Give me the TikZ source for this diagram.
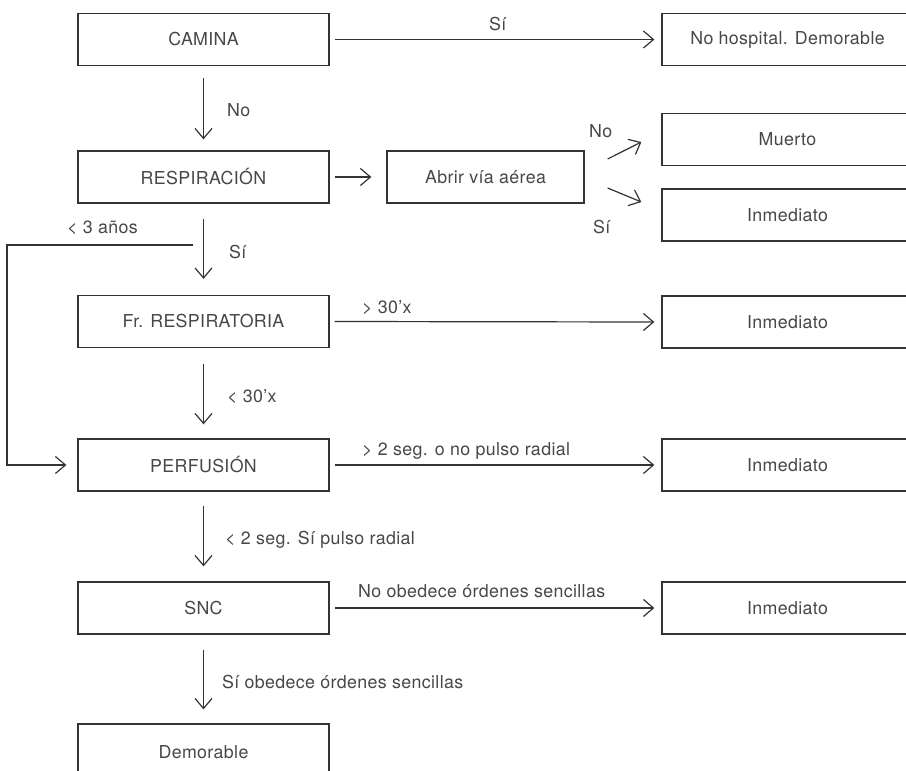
\documentclass[tikz,border=0pt]{standalone}
\usepackage{fontspec}
\setmainfont{TeX Gyre Heros}[LetterSpace=2]
\usetikzlibrary{arrows.meta}
\definecolor{ink}{HTML}{333333}
\definecolor{txt}{HTML}{474747}
\begin{document}
\begin{tikzpicture}[x=1pt,y=-1pt,
  box/.style={draw=ink,line width=1.3pt,minimum width=251pt,minimum height=52pt,
    inner sep=0pt,text=txt,font=\fontsize{17.8}{20}\selectfont},
  smallbox/.style={box,minimum width=197pt},
  arr/.style={draw=ink,line width=1.2pt,-{Straight Barb[length=10pt,width=17pt,line width=1.2pt]}},
  lbl/.style={anchor=base west,inner sep=0pt,text=txt,font=\fontsize{17.8}{20}\selectfont}]
\useasboundingbox (0,0) rectangle (906,771);
\clip (0,0) rectangle (906,771);

% main column
\node[box] (camina) at (203.5,39.5) {CAMINA};
\node[box] (resp)   at (203.5,177)  {RESPIRACIÓN};
\node[box] (frresp) at (203.5,321.5){Fr. RESPIRATORIA};
\node[box] (perf)   at (203.5,465)  {PERFUSIÓN};
\node[box] (snc)    at (203.5,608)  {SNC};
\node[box] (demor)  at (203.5,750)  {};
\node[lbl,anchor=center] (demortxt) at (203.5,752) {Demorable};

% airway box and outcomes
\node[smallbox] (abrir) at (485.5,177) {Abrir vía aérea};
\node[box] (nohosp) at (787.5,39.5) {No hospital. Demorable};
\node[box] (muerto) at (787.5,139.5){Muerto};
\node[box] (inm1)   at (787.5,215)  {Inmediato};
\node[box] (inm2)   at (787.5,322)  {Inmediato};
\node[box] (inm3)   at (787.5,465)  {Inmediato};
\node[box] (inm4)   at (787.5,608)  {Inmediato};

% vertical connectors
\draw[arr] ([yshift=-12pt]camina.south) -- ([yshift=11pt]resp.north);
\draw[arr] ([yshift=-15pt]resp.south) -- ([yshift=16pt]frresp.north);
\draw[arr] ([yshift=-16pt]frresp.south) -- ([yshift=14pt]perf.north);
\draw[arr] ([yshift=-14pt]perf.south) -- ([yshift=15pt]snc.north);
\draw[arr] ([yshift=-15pt]snc.south) -- ([yshift=14pt]demor.north);

% horizontal connectors
\draw[arr] ([xshift=5pt]camina.east) -- ([xshift=-7pt]nohosp.west);
\draw[arr] ([xshift=5pt]resp.east) -- ([xshift=-15pt]abrir.west);
\draw[arr] ([xshift=5pt]frresp.east) -- ([xshift=-7pt]inm2.west);
\draw[arr] ([xshift=5pt]perf.east) -- ([xshift=-7pt]inm3.west);
\draw[arr] ([xshift=5pt]snc.east) -- ([xshift=-7pt]inm4.west);

% airway branches
\draw[arr] ([shift={(23,-18)}]abrir.east) -- ([shift={(-20,2.5)}]muerto.west);
\draw[arr] ([shift={(23,11)}]abrir.east) -- ([shift={(-20,-13)}]inm1.west);

% bypass for children under three
\coordinate (kid) at (193,245);
\draw[arr] (kid) -- (7,245) |- ([xshift=-11pt]perf.west);

% labels
\node[lbl] (l1)  at (489,30.5) {Sí};
\node[lbl] (l2)  at (227,116)  {No};
\node[lbl] (l3)  at (589,137)  {No};
\node[lbl] (l4)  at (593,233)  {Sí};
\node[lbl] (l5)  at (67,233)   {< 3 años};
\node[lbl] (l6)  at (229,258)  {Sí};
\node[lbl] (l7)  at (362,313)  {> 30’x};
\node[lbl] (l8)  at (227,402)  {< 30’x};
\node[lbl] (l9)  at (362,455)  {> 2 seg. o no pulso radial};
\node[lbl] (l10) at (225,544)  {< 2 seg. Sí pulso radial};
\node[lbl] (l11) at (358,597)  {No obedece órdenes sencillas};
\node[lbl] (l12) at (222,688)  {Sí obedece órdenes sencillas};
\end{tikzpicture}
\end{document}
